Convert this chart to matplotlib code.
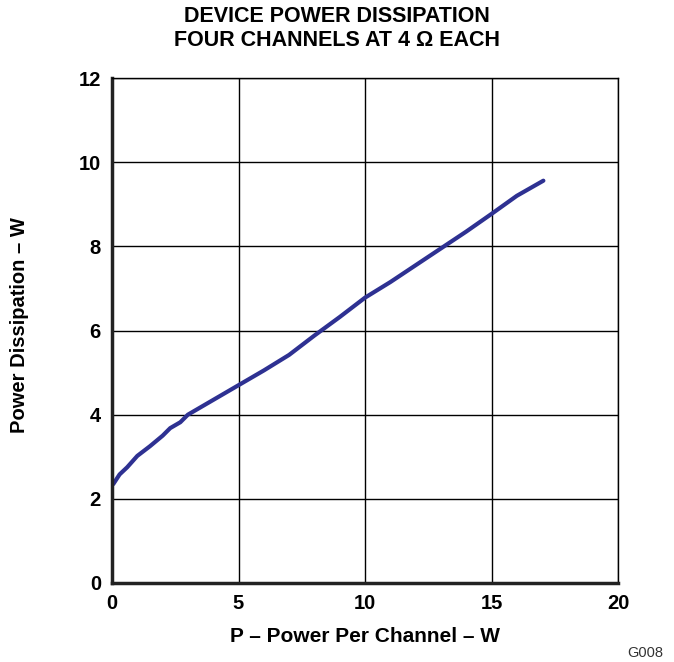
import matplotlib.pyplot as plt

plt.rcParams['font.family'] = ['Liberation Sans', 'DejaVu Sans']

power_per_channel = [0.05, 0.3, 0.6, 1.0, 1.5, 2.0, 2.3, 2.7, 3.0, 4.0, 5.0, 6.0, 7.0,
                     8.0, 9.0, 10.0, 11.0, 12.0, 13.0, 14.0, 15.0, 16.0, 17.05]
dissipation = [2.35, 2.58, 2.75, 3.02, 3.25, 3.5, 3.68, 3.82, 4.0, 4.35, 4.7, 5.05, 5.42,
               5.88, 6.32, 6.78, 7.15, 7.55, 7.95, 8.35, 8.77, 9.2, 9.56]

xticks = [0, 5, 10, 15, 20]
yticks = [0, 2, 4, 6, 8, 10, 12]

W, H = 674, 662
fig = plt.figure(figsize=(W / 100, H / 100), dpi=100)
ax = fig.add_axes([112 / W, 1 - 583 / H, 506 / W, 505 / H])

ax.plot(power_per_channel, dissipation, color='#2E3192', linewidth=3, solid_capstyle='round')

ax.set_xlim(0, 20)
ax.set_ylim(0, 12)
ax.set_xticks(xticks)
ax.set_yticks(yticks)
ax.grid(True, color='black', linewidth=1)
ax.tick_params(length=0, labelsize=14.5, pad=8)
for lab in ax.get_xticklabels() + ax.get_yticklabels():
    lab.set_fontweight('bold')

for side in ['left', 'bottom']:
    ax.spines[side].set_linewidth(2.5)
    ax.spines[side].set_color('#222222')
for side in ['top', 'right']:
    ax.spines[side].set_linewidth(1)

ax.set_xlabel('P – Power Per Channel – W', fontsize=15, fontweight='bold', va='center')
ax.xaxis.set_label_coords(0.5, (583 - 637) / 505)
ax.set_ylabel('Power Dissipation – W', fontsize=14.5, fontweight='bold', va='center')
ax.yaxis.set_label_coords((20 - 112) / 506, (583 - 325) / 505)

fig.text(0.5, 1 - 17 / H, 'DEVICE POWER DISSIPATION', ha='center', va='center',
         fontsize=15.5, fontweight='bold')
fig.text(0.5, 1 - 40 / H, 'FOUR CHANNELS AT 4 Ω EACH', ha='center', va='center',
         fontsize=15.5, fontweight='bold')
fig.text(645 / W, 1 - 653 / H, 'G008', ha='center', va='center', fontsize=10.5, color='#333333')

fig.savefig('out.png', dpi=100)
